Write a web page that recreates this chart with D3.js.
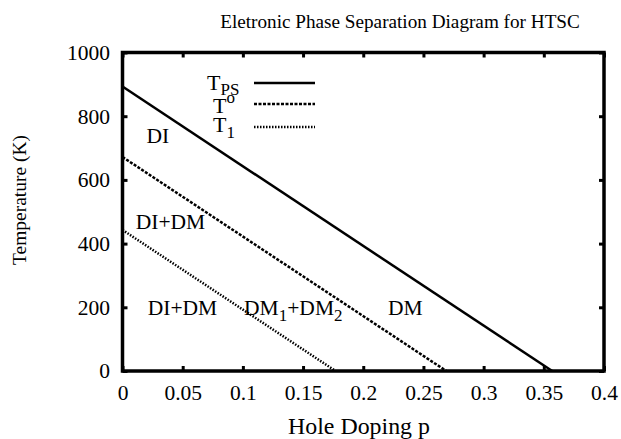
<!DOCTYPE html>
<html><head><meta charset="utf-8">
<script src="https://cdn.jsdelivr.net/npm/d3@7"></script>
</head>
<body style="margin:0;background:#fff"><svg id="c" width="621" height="439"></svg>
<script>
const xTicks = [0,0.05,0.1,0.15,0.2,0.25,0.3,0.35,0.4];
const xTickLabels = ["0","0.05","0.1","0.15","0.2","0.25","0.3","0.35","0.4"];
const yTicks = [0,200,400,600,800,1000];
const tpsP = [0, 0.357];
const tpsT = [893, 0];
const t0P = [0, 0.269];
const t0T = [672, 0];
const t1P = [0, 0.177];
const t1T = [443, 0];
const regionNames = ["DI","DI+DM","DI+DM","DM1+DM2","DM"];
const regionP = [0.02, 0.011, 0.021, 0.101, 0.2205];
const regionT = [716, 446, 176, 176, 176];

const FF = "Liberation Serif";
const BASE = 16;
const svg = d3.select("#c").attr("font-family", FF);
const L=122.5, R=604, T=52.5, B=371;
const x = d3.scaleLinear().domain([0,0.4]).range([L,R]);
const y = d3.scaleLinear().domain([0,1000]).range([B,T]);

// text drawn at a small base size and scaled up
function tf(px,py,k,rot){ return `translate(${px},${py})${rot?` rotate(${rot})`:""} scale(${k})`; }
function stext(px, py, size, anchor, rot){
  const t = svg.append("text").attr("transform", tf(px,py,size/BASE,rot))
    .attr("font-size",BASE).attr("font-family",FF).attr("fill","#000");
  if(anchor) t.attr("text-anchor",anchor);
  return t;
}
function fitText(px, py, w, anchor, rot, str){
  const t = stext(px,py,BASE,anchor,rot).text(str);
  const len = t.node().getComputedTextLength();
  t.attr("transform", tf(px,py,w/len,rot));
  return t;
}

fitText(400, 28, 360, "middle", 0, "Eletronic Phase Separation Diagram for HTSC");

const tl = 5;
const tickSize = 21.5;
function styleAxis(g){
  g.select(".domain").remove();
  g.attr("font-family", FF);
  g.selectAll("line").attr("stroke-width",3);
  g.selectAll("text").each(function(){
    const s = d3.select(this);
    const x0 = +s.attr("x")||0, y0 = +s.attr("y")||0;
    s.attr("x",null).attr("y",null).attr("font-size",BASE).attr("font-family",FF)
     .attr("transform", tf(x0,y0,tickSize/BASE,0));
  });
}
svg.append("g").attr("transform",`translate(0,${B})`)
  .call(d3.axisBottom(x).tickValues(xTicks).tickFormat((d,i)=>xTickLabels[i]).tickSizeInner(-tl).tickSizeOuter(0).tickPadding(14))
  .call(styleAxis);
svg.append("g").attr("transform",`translate(0,${T})`)
  .call(d3.axisTop(x).tickValues(xTicks).tickFormat("").tickSizeInner(-tl).tickSizeOuter(0))
  .call(styleAxis);
svg.append("g").attr("transform",`translate(${L},0)`)
  .call(d3.axisLeft(y).tickValues(yTicks).tickFormat(d3.format("d")).tickSizeInner(-tl).tickSizeOuter(0).tickPadding(12.5))
  .call(styleAxis);
svg.append("g").attr("transform",`translate(${R},0)`)
  .call(d3.axisRight(y).tickValues(yTicks).tickFormat("").tickSizeInner(-tl).tickSizeOuter(0))
  .call(styleAxis);

svg.append("rect").attr("x",L).attr("y",T).attr("width",R-L).attr("height",B-T)
  .attr("fill","none").attr("stroke","#000").attr("stroke-width",3.5);

const line = d3.line().x(d=>x(d[0])).y(d=>y(d[1]));
const series = [
  {p:tpsP,t:tpsT,dash:null,w:2.5},
  {p:t0P,t:t0T,dash:"3,1.5",w:2.5},
  {p:t1P,t:t1T,dash:"1.5,1.5",w:2.5}
];
series.forEach(s=>{
  const pts = s.p.map((p,i)=>[p,s.t[i]]);
  const path = svg.append("path").attr("d",line(pts)).attr("fill","none").attr("stroke","#000").attr("stroke-width",s.w);
  if(s.dash) path.attr("stroke-dasharray",s.dash);
});

const leg = [{y:83,dash:null},{y:104,dash:"3,1.5"},{y:127,dash:"1.5,1.5"}];
leg.forEach(l=>{
  const ln = svg.append("line").attr("x1",254).attr("x2",315).attr("y1",l.y).attr("y2",l.y).attr("stroke","#000").attr("stroke-width",2.5);
  if(l.dash) ln.attr("stroke-dasharray",l.dash);
});
const LS = 22, k1 = LS/BASE, SUB = 17/k1;
const lt1 = stext(207, 90, LS);
lt1.append("tspan").text("T");
lt1.append("tspan").attr("dy",5/k1).attr("font-size",SUB).text("PS");
const lt2 = stext(213, 113, LS);
lt2.append("tspan").text("T");
lt2.append("tspan").attr("dy",-10/k1).attr("font-size",SUB).text("o");
const lt3 = stext(213, 132, LS);
lt3.append("tspan").text("T");
lt3.append("tspan").attr("dy",6/k1).attr("font-size",SUB).text("1");

const RS = 21.5, k2 = RS/BASE, SUB2 = 17/k2;
regionNames.forEach((n,i)=>{
  const t = stext(x(regionP[i]), y(regionT[i]), RS);
  if(n==="DM1+DM2"){
    t.append("tspan").text("DM");
    t.append("tspan").attr("dy",6/k2).attr("font-size",SUB2).text("1");
    t.append("tspan").attr("dy",-6/k2).text("+DM");
    t.append("tspan").attr("dy",6/k2).attr("font-size",SUB2).text("2");
  } else t.text(n);
});

fitText(26, 200, 130, "middle", -90, "Temperature (K)");
fitText(359, 434, 142, "middle", 0, "Hole Doping p");
</script></body></html>
